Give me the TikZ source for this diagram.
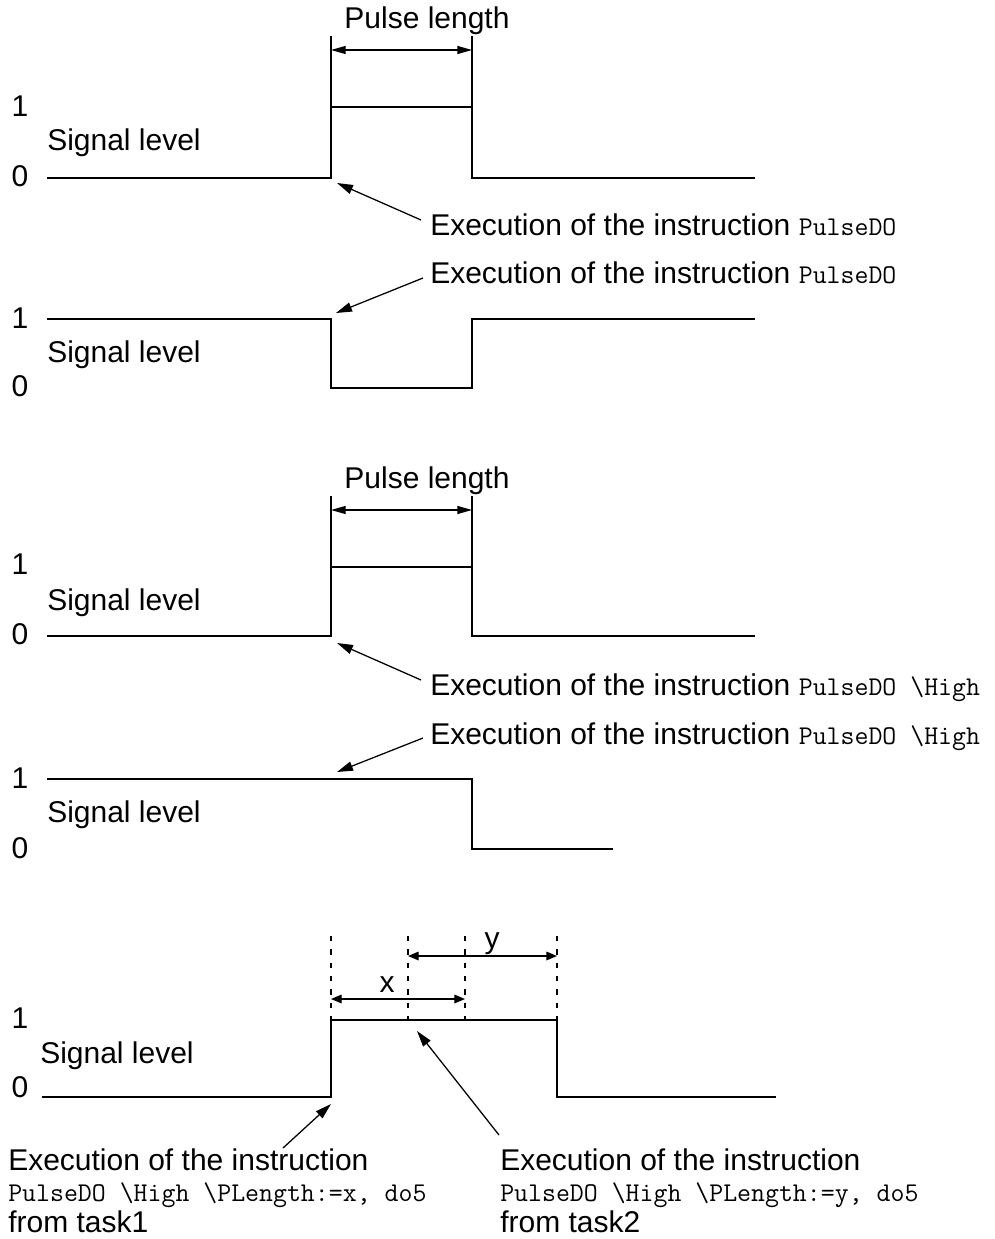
\documentclass[tikz,border=0pt]{standalone}
\usepackage{fontspec}
\setmainfont{Liberation Sans}
\usetikzlibrary{arrows.meta}
\newcommand\codetxt[1]{{\fontsize{20.3}{24}\selectfont\ttfamily #1}}
\begin{document}
\begin{tikzpicture}[x=0.75pt,y=-0.75pt,
  sig/.style={line width=2.2pt, line join=miter},
  thinline/.style={line width=0.95pt},
  dashline/.style={line width=0.95pt, dash pattern=on 4pt off 6pt},
  lead/.style={thinline,-{Triangle[length=12pt,width=7pt]}},
  dimarrow/.style={thinline,{Triangle[length=11pt,width=6pt]}-{Triangle[length=11pt,width=6pt]}},
  dimxy/.style={thinline,{Triangle[length=8pt,width=6.5pt]}-{Triangle[length=8pt,width=6.5pt]}},
  txt/.style={font=\fontsize{22.5}{27}\selectfont, inner sep=0pt, anchor=base west},
  num/.style={font=\fontsize{22.5}{27}\selectfont, inner sep=0pt, anchor=center}]
\useasboundingbox (0,0) rectangle (995,1239);

% ---------- Diagram 1 ----------
\node[txt, anchor=base] (pl1) at (427,28) {Pulse length};
\coordinate (d1a) at (331,36); \coordinate (d1b) at (472,36);
\coordinate (d1c) at (331,50); \coordinate (d1d) at (472,50);
\coordinate (s1a) at (47,178); \coordinate (s1b) at (331,178);
\coordinate (s1c) at (331,107); \coordinate (s1d) at (472,107);
\coordinate (s1e) at (472,178); \coordinate (s1f) at (755,178);
\draw[sig] (s1a) -- (s1b) -- (s1c) -- (s1d) -- (s1e) -- (s1f);
\draw[thinline] (s1c) -- (d1a);
\draw[thinline] (s1d) -- (d1b);
\draw[dimarrow] (d1c) -- (d1d);
\node[num] (one1) at (20,106) {1};
\node[txt] (sl1) at (47,150) {Signal level};
\node[num] (zero1) at (20,176) {0};
\node[txt] (e1) at (430,235) {Execution of the instruction \codetxt{PulseDO}};
\coordinate (l1) at (421,220); \coordinate (t1) at (337,183);
\draw[lead] (l1) -- (t1);

% ---------- Diagram 2 ----------
\node[txt] (e2) at (430,283) {Execution of the instruction \codetxt{PulseDO}};
\coordinate (l2) at (423,278); \coordinate (t2) at (336,313);
\draw[lead] (l2) -- (t2);
\coordinate (s2a) at (47,319); \coordinate (s2b) at (331,319);
\coordinate (s2c) at (331,388); \coordinate (s2d) at (472,388);
\coordinate (s2e) at (472,319); \coordinate (s2f) at (755,319);
\draw[sig] (s2a) -- (s2b) -- (s2c) -- (s2d) -- (s2e) -- (s2f);
\node[num] (one2) at (20,318) {1};
\node[txt] (sl2) at (47,362) {Signal level};
\node[num] (zero2) at (20,386) {0};

% ---------- Diagram 3 ----------
\node[txt, anchor=base] (pl3) at (427,488) {Pulse length};
\coordinate (d3a) at (331,496); \coordinate (d3b) at (472,496);
\coordinate (d3c) at (331,510); \coordinate (d3d) at (472,510);
\coordinate (s3a) at (47,636); \coordinate (s3b) at (331,636);
\coordinate (s3c) at (331,567); \coordinate (s3d) at (472,567);
\coordinate (s3e) at (472,636); \coordinate (s3f) at (755,636);
\draw[sig] (s3a) -- (s3b) -- (s3c) -- (s3d) -- (s3e) -- (s3f);
\draw[thinline] (s3c) -- (d3a);
\draw[thinline] (s3d) -- (d3b);
\draw[dimarrow] (d3c) -- (d3d);
\node[num] (one3) at (20,564) {1};
\node[txt] (sl3) at (47,610) {Signal level};
\node[num] (zero3) at (20,634) {0};
\node[txt] (e3) at (430,695) {Execution of the instruction \codetxt{PulseDO \textbackslash High}};
\coordinate (l3) at (421,680); \coordinate (t3) at (337,643);
\draw[lead] (l3) -- (t3);

% ---------- Diagram 4 ----------
\node[txt] (e4) at (430,744) {Execution of the instruction \codetxt{PulseDO \textbackslash High}};
\coordinate (l4) at (423,738); \coordinate (t4) at (337,772);
\draw[lead] (l4) -- (t4);
\coordinate (s4a) at (47,779); \coordinate (s4b) at (472,779);
\coordinate (s4c) at (472,849); \coordinate (s4d) at (613,849);
\draw[sig] (s4a) -- (s4b) -- (s4c) -- (s4d);
\node[num] (one4) at (20,778) {1};
\node[txt] (sl4) at (47,822) {Signal level};
\node[num] (zero4) at (20,848) {0};

% ---------- Diagram 5 ----------
\coordinate (v1t) at (331,936); \coordinate (v1b) at (331,1020);
\coordinate (v2t) at (408,936); \coordinate (v2b) at (408,1020);
\coordinate (v3t) at (465,936); \coordinate (v3b) at (465,1020);
\coordinate (v4t) at (557,936); \coordinate (v4b) at (557,1020);
\draw[dashline] (v1t) -- (v1b);
\draw[dashline] (v2t) -- (v2b);
\draw[dashline] (v3t) -- (v3b);
\draw[dashline] (v4t) -- (v4b);
\coordinate (ya) at (408,956); \coordinate (yb) at (557,956);
\coordinate (xa) at (331,999); \coordinate (xb) at (465,999);
\draw[dimxy] (ya) -- (yb);
\draw[dimxy] (xa) -- (xb);
\node[txt, anchor=base] (ylab) at (492,948) {y};
\node[txt, anchor=base] (xlab) at (387,992) {x};
\coordinate (s5a) at (42,1097); \coordinate (s5b) at (331,1097);
\coordinate (s5c) at (331,1020); \coordinate (s5d) at (557,1020);
\coordinate (s5e) at (557,1097); \coordinate (s5f) at (776,1097);
\draw[sig] (s5a) -- (s5b) -- (s5c) -- (s5d) -- (s5e) -- (s5f);
\node[num] (one5) at (20,1018) {1};
\node[txt] (sl5) at (40,1063) {Signal level};
\node[num] (zero5) at (20,1087) {0};
\coordinate (l5) at (283,1148); \coordinate (t5) at (331,1104);
\draw[lead] (l5) -- (t5);
\coordinate (l6) at (499,1135); \coordinate (t6) at (417,1031);
\draw[lead] (l6) -- (t6);
\node[txt] (b1a) at (8,1170) {Execution of the instruction};
\node[txt] (b1b) at (8,1201) {\codetxt{PulseDO \textbackslash High \textbackslash PLength:=x, do5}};
\node[txt] (b1c) at (8,1232) {from task1};
\node[txt] (b2a) at (500,1170) {Execution of the instruction};
\node[txt] (b2b) at (500,1201) {\codetxt{PulseDO \textbackslash High \textbackslash PLength:=y, do5}};
\node[txt] (b2c) at (500,1232) {from task2};
\end{tikzpicture}
\end{document}
